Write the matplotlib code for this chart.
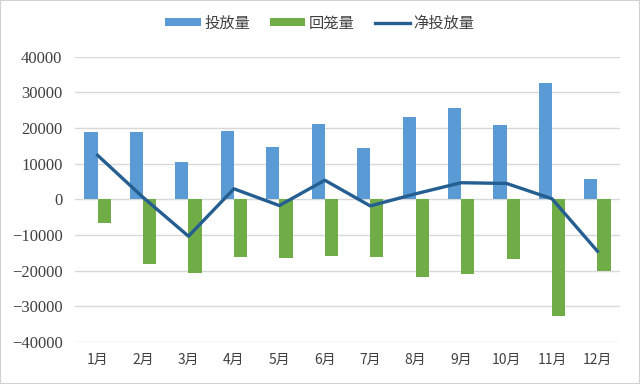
import matplotlib.pyplot as plt
import matplotlib.patches as mpatches
import numpy as np

plt.rcParams['font.family'] = ['Noto Sans CJK SC', 'DejaVu Sans']

months = ['1月', '2月', '3月', '4月', '5月', '6月', '7月', '8月', '9月', '10月', '11月', '12月']
invest = [18800, 18800, 10400, 19100, 14600, 21200, 14500, 23200, 25600, 20900, 32600, 5700]
withdraw = [-6500, -18200, -20700, -16100, -16300, -15800, -16200, -21600, -21000, -16600, -32700, -20100]
net = [12400, 600, -10300, 3000, -1700, 5400, -1800, 1600, 4700, 4500, 200, -14500]
yticks = [-40000, -30000, -20000, -10000, 0, 10000, 20000, 30000, 40000]


def main():
    fig = plt.figure(figsize=(6.4, 3.84), dpi=100)
    ax = fig.add_axes([0.117, 0.109, 0.852, 0.743])

    x = np.arange(len(months))
    w = 0.29
    b1 = ax.bar(x - w / 2, invest, w, color='#5B9BD5', label='投放量', zorder=2)
    b2 = ax.bar(x + w / 2, withdraw, w, color='#70AD47', label='回笼量', zorder=2)
    ln, = ax.plot(x, net, color='#255E91', linewidth=2.4, label='净投放量', zorder=3)

    ax.set_ylim(-40000, 40000)
    ax.set_xlim(-0.5, len(months) - 0.5)
    ax.set_yticks(yticks)
    ax.tick_params(axis='y', length=0, pad=9, labelsize=12, labelcolor='#404040',
                   labelfontfamily='Liberation Serif')
    ax.set_xticks(x)
    ax.set_xticklabels(months)
    ax.tick_params(axis='x', length=0, pad=8, labelsize=10, labelcolor='#404040')
    for s in ax.spines.values():
        s.set_visible(False)
    ax.grid(axis='y', color='#D9D9D9', linewidth=1, zorder=0)
    ax.set_axisbelow(True)

    fig.legend(handles=[b1, b2, ln], loc='center', bbox_to_anchor=(0.5, 0.94), ncol=3,
               frameon=False, fontsize=11, handlelength=2.3, handleheight=0.5,
               columnspacing=1.3, handletextpad=0.25, labelcolor='#404040')

    fig.patches.append(mpatches.Rectangle((0, 0), 1, 1, transform=fig.transFigure,
                                          fill=False, edgecolor='#D0D0D0', linewidth=1.5))
    fig.savefig('out.png', dpi=100)


if __name__ == "__main__":
    main()
